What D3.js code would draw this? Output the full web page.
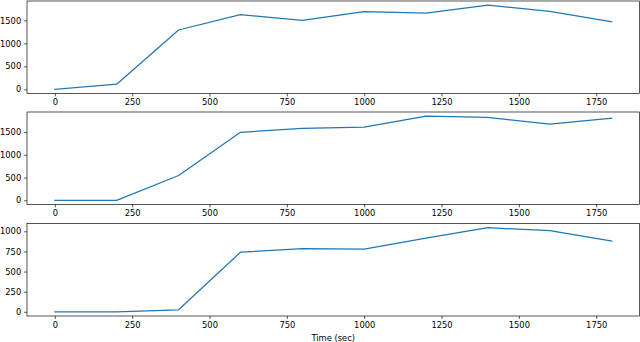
<!DOCTYPE html>
<html>
<head>
<meta charset="utf-8">
<script src="https://cdn.jsdelivr.net/npm/d3@7"></script>
<style>
    body { margin: 0; background: #fff; }
    svg { display: block; }
    text { font-family: "DejaVu Sans", sans-serif; fill: #000; }
</style>
</head>
<body>
<div id="canvas"></div>
<script>
"use strict"

let svgWidth = 640
let svgHeight = 342

// sample times (sec), shared by the three panels
let times = [0, 200, 400, 600, 800, 1000, 1200, 1400, 1600, 1800]

// one series per panel
let seriesTop = [0, 110, 1290, 1625, 1500, 1690, 1660, 1830, 1695, 1470]
let seriesMid = [0, 0, 545, 1495, 1580, 1610, 1850, 1822, 1675, 1805]
let seriesBottom = [0, 0, 25, 740, 785, 780, 915, 1045, 1008, 880]

let xTicks = [0, 250, 500, 750, 1000, 1250, 1500, 1750]
let yTicksTop = [0, 500, 1000, 1500]
let yTicksMid = [0, 500, 1000, 1500]
let yTicksBottom = [0, 250, 500, 750, 1000]

let xLabel = "Time (sec)"

let plotLeft = 27
let plotRight = 639.5
let panelTops = [1, 112, 223.5]
let panelHeight = 92.5

let fontSize = 8.33
let tickLen = 2.9
let tickPad = 2.9

let svg = d3.select("#canvas")
    .append("svg")
    .attr("width", svgWidth)
    .attr("height", svgHeight)

// matplotlib-like auto limits with 5% padding
function paddedExtent(values) {
    let lo = d3.min(values)
    let hi = d3.max(values)
    let pad = (hi - lo) * 0.05
    return [lo - pad, hi + pad]
}

let xScale = d3.scaleLinear()
    .domain(paddedExtent(times))
    .range([plotLeft, plotRight])

function styleAxis(sel) {
    sel.select(".domain").remove()
    sel.selectAll("line").attr("stroke", "#000").attr("stroke-width", 0.67)
    sel.selectAll("text")
        .style("font-size", fontSize + "px")
        .attr("fill", "#222")
        .style("font-family", "DejaVu Sans, sans-serif")
}

function drawPanel(values, yTicks, top) {
    let bottom = top + panelHeight
    let yScale = d3.scaleLinear()
        .domain(paddedExtent(values))
        .range([bottom, top])

    let g = svg.append("g")

    // data line
    let line = d3.line()
        .x(function (d, i) { return xScale(times[i]) })
        .y(function (d) { return yScale(d) })

    g.append("path")
        .datum(values)
        .attr("d", line)
        .attr("fill", "none")
        .attr("stroke", "#1f77b4")
        .attr("stroke-width", 1.25)
        .attr("stroke-linejoin", "round")
        .attr("stroke-linecap", "square")

    // frame
    g.append("rect")
        .attr("x", plotLeft)
        .attr("y", top)
        .attr("width", plotRight - plotLeft)
        .attr("height", panelHeight)
        .attr("fill", "none")
        .attr("stroke", "#000")
        .attr("stroke-width", 0.67)

    // x axis
    let xAxis = d3.axisBottom(xScale)
        .tickValues(xTicks)
        .tickFormat(d3.format("d"))
        .tickSize(tickLen)
        .tickPadding(tickPad)
    g.append("g")
        .attr("transform", `translate(0,${bottom})`)
        .call(xAxis)
        .call(styleAxis)

    // y axis
    let yAxis = d3.axisLeft(yScale)
        .tickValues(yTicks)
        .tickFormat(d3.format("d"))
        .tickSize(tickLen)
        .tickPadding(tickPad)
    g.append("g")
        .attr("transform", `translate(${plotLeft},0)`)
        .call(yAxis)
        .call(styleAxis)
}

drawPanel(seriesTop, yTicksTop, panelTops[0])
drawPanel(seriesMid, yTicksMid, panelTops[1])
drawPanel(seriesBottom, yTicksBottom, panelTops[2])

// x axis title under the last panel
svg.append("text")
    .attr("x", (plotLeft + plotRight) / 2)
    .attr("y", 341)
    .attr("text-anchor", "middle")
    .style("font-size", fontSize + "px")
    .attr("fill", "#222")
    .text(xLabel)
</script>
</body>
</html>
